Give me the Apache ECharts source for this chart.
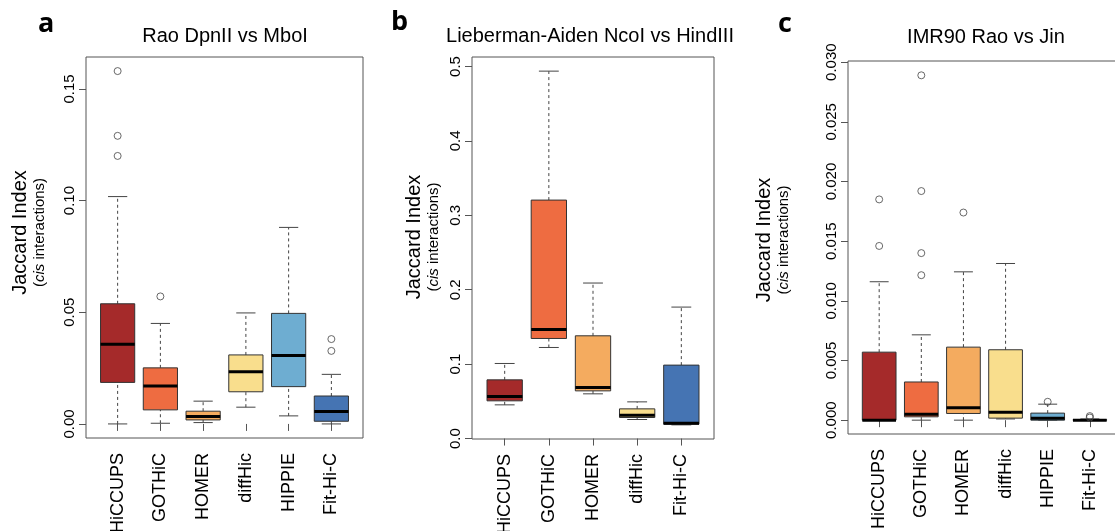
<!DOCTYPE html>
<html>
<head>
<meta charset="utf-8">
<script src="https://cdn.jsdelivr.net/npm/echarts@6/dist/echarts.min.js"></script>
<style>
html,body{margin:0;padding:0;background:#fff}
#chart{width:1115px;height:531px}
</style>
</head>
<body>
<div id="chart"></div>
<script>
// tools shown in each panel
const catsA = ['HiCCUPS', 'GOTHiC', 'HOMER', 'diffHic', 'HIPPIE', 'Fit-Hi-C']
const catsB = ['HiCCUPS', 'GOTHiC', 'HOMER', 'diffHic', 'Fit-Hi-C']
const catsC = ['HiCCUPS', 'GOTHiC', 'HOMER', 'diffHic', 'HIPPIE', 'Fit-Hi-C']

// box stats: [lower whisker, Q1, median, Q3, upper whisker]
const boxA = [
    [0.0000, 0.0186, 0.0357, 0.0538, 0.1018],
    [0.0003, 0.0063, 0.0170, 0.0251, 0.0450],
    [0.0006, 0.0018, 0.0033, 0.0057, 0.0102],
    [0.0075, 0.0144, 0.0234, 0.0309, 0.0497],
    [0.0036, 0.0167, 0.0306, 0.0495, 0.0880],
    [0.0000, 0.0012, 0.0056, 0.0125, 0.0222]
]
// outliers: [tool index, value]
const outA = [[0, 0.158], [0, 0.129], [0, 0.120], [1, 0.0571], [5, 0.0380], [5, 0.0327]]

const boxB = [
    [0.0453, 0.0507, 0.0565, 0.0789, 0.1009],
    [0.1224, 0.1345, 0.1466, 0.3205, 0.4938],
    [0.0601, 0.0641, 0.0686, 0.1381, 0.2090],
    [0.0256, 0.0283, 0.0314, 0.0399, 0.0493],
    [0.0184, 0.0193, 0.0206, 0.0987, 0.1767]
]
const outB = []

const boxC = [
    [0.0000, 0.0000, 0.0000, 0.0057, 0.0116],
    [0.0000, 0.00028, 0.0005, 0.0032, 0.00715],
    [0.0000, 0.00056, 0.00103, 0.00612, 0.01243],
    [0.0001, 0.00017, 0.00067, 0.0059, 0.01313],
    [0.0000, 0.0000, 0.00017, 0.00059, 0.00134],
    [0.0000, 0.0000, 0.0000, 0.00003, 0.0001]
]
const outC = [[0, 0.0185], [0, 0.0146], [1, 0.0289], [1, 0.0192], [1, 0.0140], [1, 0.01215],
    [2, 0.0174], [4, 0.00154], [5, 0.00034], [5, 0.00022]]

const ticksA = [0, 0.05, 0.10, 0.15]
const ticksB = [0, 0.1, 0.2, 0.3, 0.4, 0.5]
const ticksC = [0, 0.005, 0.010, 0.015, 0.020, 0.025, 0.030]

const toolColors = {
    'HiCCUPS': '#A52A2A',
    'GOTHiC': '#EE6C41',
    'HOMER': '#F4AB5F',
    'diffHic': '#F9DE8D',
    'HIPPIE': '#6EADD1',
    'Fit-Hi-C': '#4574B3'
}

const FONT = 'Liberation Sans, Arial, sans-serif'

function renderBox(cats) {
    return function (params, api) {
        const x = api.value(0)
        const w = api.size([0.8, 0])[0]
        const cap = api.size([0.45, 0])[0]
        const pLow = api.coord([x, api.value(1)])
        const pQ1 = api.coord([x, api.value(2)])
        const pMed = api.coord([x, api.value(3)])
        const pQ3 = api.coord([x, api.value(4)])
        const pHigh = api.coord([x, api.value(5)])
        const cx = pLow[0]
        const dash = {stroke: '#444', lineWidth: 1, lineDash: [3, 3]}
        const solid = {stroke: '#444', lineWidth: 1}
        return {
            type: 'group',
            children: [
                {type: 'line', shape: {x1: cx, y1: pQ3[1], x2: cx, y2: pHigh[1]}, style: dash},
                {type: 'line', shape: {x1: cx, y1: pLow[1], x2: cx, y2: pQ1[1]}, style: dash},
                {type: 'line', shape: {x1: cx - cap / 2, y1: pHigh[1], x2: cx + cap / 2, y2: pHigh[1]}, style: solid},
                {type: 'line', shape: {x1: cx - cap / 2, y1: pLow[1], x2: cx + cap / 2, y2: pLow[1]}, style: solid},
                {type: 'rect', shape: {x: cx - w / 2, y: pQ3[1], width: w, height: pQ1[1] - pQ3[1]},
                    style: {fill: toolColors[cats[params.dataIndex]], stroke: '#333', lineWidth: 1}},
                {type: 'line', shape: {x1: cx - w / 2, y1: pMed[1], x2: cx + w / 2, y2: pMed[1]},
                    style: {stroke: '#000', lineWidth: 3}}
            ]
        }
    }
}

function makeGrid(left, top, width, height) {
    return {left, top, width, height, show: true, borderColor: '#555', borderWidth: 1, outerBoundsMode: 'none'}
}

function makeX(idx, cats) {
    const pos = cats.map((c, i) => i + 1)
    return {
        type: 'value', gridIndex: idx, min: 0.26, max: cats.length + 0.74,
        splitLine: {show: false}, axisLine: {show: false},
        axisTick: {show: true, customValues: pos, length: 7, lineStyle: {color: '#555'}},
        axisLabel: {
            customValues: pos, rotate: 90, margin: 15, fontSize: 18, color: '#000', fontFamily: FONT,
            formatter: v => cats[Math.round(v) - 1]
        }
    }
}

function makeY(idx, min, max, ticks, dec, gap, shift) {
    return {
        type: 'value', gridIndex: idx, min, max,
        splitLine: {show: false}, axisLine: {show: false},
        axisTick: {show: true, customValues: ticks, length: 7, lineStyle: {color: '#555'}},
        axisLabel: {
            customValues: ticks, rotate: 90, margin: 9, fontSize: 15, color: '#000', fontFamily: FONT,
            formatter: v => v.toFixed(dec)
        },
        name: '{a|Jaccard Index}\n{b|(}{i|cis}{b| interactions)}',
        nameLocation: 'middle', nameGap: gap, nameRotate: 90,
        nameTextStyle: {
            padding: [0, 0, 0, shift],
            rich: {
                a: {fontSize: 20, lineHeight: 22, fontFamily: FONT, color: '#000'},
                b: {fontSize: 15, lineHeight: 17, fontFamily: FONT, color: '#000'},
                i: {fontSize: 15, lineHeight: 17, fontFamily: FONT, fontStyle: 'italic', color: '#000'}
            }
        }
    }
}

function boxSeries(idx, cats, boxes) {
    return {
        type: 'custom', xAxisIndex: idx, yAxisIndex: idx,
        renderItem: renderBox(cats),
        encode: {x: 0, y: [1, 2, 3, 4, 5]},
        data: boxes.map((b, i) => [i + 1].concat(b)),
        z: 2
    }
}

function outlierSeries(idx, outs) {
    return {
        type: 'scatter', xAxisIndex: idx, yAxisIndex: idx,
        symbol: 'circle', symbolSize: 7,
        itemStyle: {color: 'rgba(0,0,0,0)', borderColor: '#444', borderWidth: 1},
        data: outs.map(o => [o[0] + 1, o[1]]),
        z: 3
    }
}

function titleText(x, y, text) {
    return {
        type: 'text', x, y,
        style: {text, font: '20px ' + FONT, fill: '#000', align: 'center', textAlign: 'center',
            verticalAlign: 'middle', textVerticalAlign: 'middle'}
    }
}

function letterText(x, y, text) {
    return {
        type: 'text', x, y,
        style: {text, font: 'bold 27px "Open Sans", sans-serif', fill: '#000', align: 'left', textAlign: 'left',
            verticalAlign: 'middle', textVerticalAlign: 'middle'}
    }
}

const chart = echarts.init(document.getElementById('chart'))
chart.setOption({
    animation: false,
    backgroundColor: '#fff',
    grid: [
        makeGrid(86, 57, 277, 381),
        makeGrid(472, 57, 242, 382),
        makeGrid(848, 61, 273, 373)
    ],
    xAxis: [makeX(0, catsA), makeX(1, catsB), makeX(2, catsC)],
    yAxis: [
        makeY(0, -0.0063, 0.1643, ticksA, 2, 38, 30),
        makeY(1, -0.0006, 0.5128, ticksB, 1, 30, 22),
        makeY(2, -0.00116, 0.0301, ticksC, 3, 56, 15)
    ],
    series: [
        boxSeries(0, catsA, boxA), outlierSeries(0, outA),
        boxSeries(1, catsB, boxB), outlierSeries(1, outB),
        boxSeries(2, catsC, boxC), outlierSeries(2, outC)
    ],
    graphic: [
        letterText(38, 24, 'a'), letterText(391, 22, 'b'), letterText(778, 24, 'c'),
        titleText(225, 36, 'Rao DpnII vs MboI'),
        titleText(590, 36, 'Lieberman-Aiden NcoI vs HindIII'),
        titleText(986, 37, 'IMR90 Rao vs Jin')
    ]
})
</script>
</body>
</html>
